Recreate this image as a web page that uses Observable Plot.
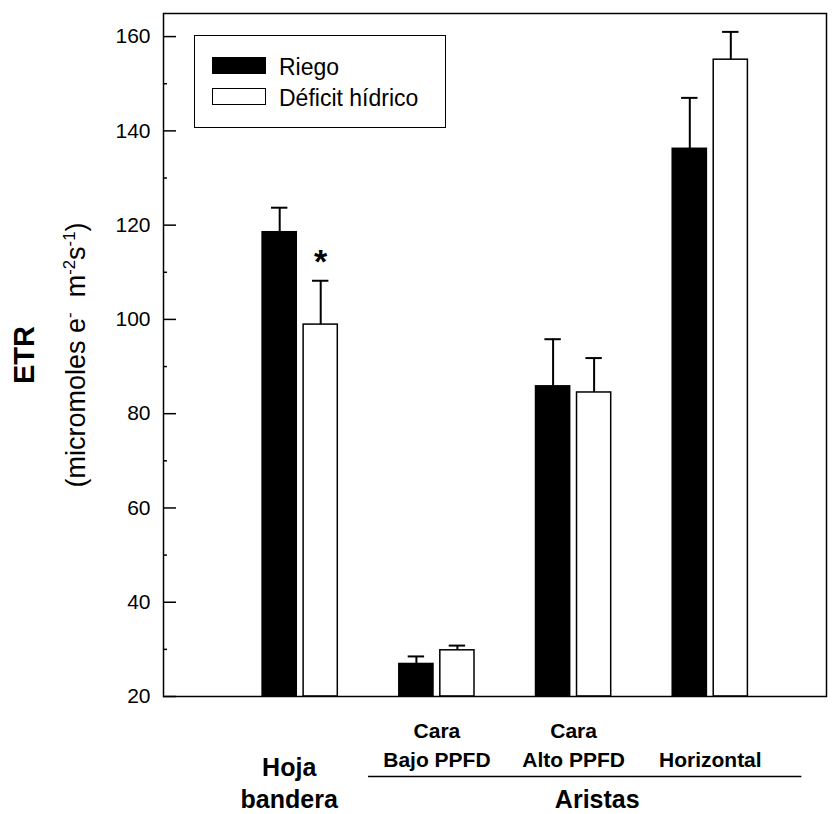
<!DOCTYPE html>
<html>
<head>
<meta charset="utf-8">
<script src="https://cdn.jsdelivr.net/npm/d3@7"></script>
<script src="https://cdn.jsdelivr.net/npm/@observablehq/plot@0.6"></script>
<style>
  body { margin: 0; background: #fff; font-family: "Liberation Sans", Arial, sans-serif; }
  #wrap { position: relative; width: 837px; height: 814px; }
  .legend { position: absolute; left: 194px; top: 35px; width: 250px; height: 91px; border: 1.5px solid #000; background: #fff; }
  .sw { position: absolute; left: 17px; width: 52px; height: 15px; border: 1.5px solid #000; }
  .lt { position: absolute; left: 84px; font-size: 23px; line-height: 23px; white-space: nowrap; color: #000; }
  .ytitle { position: absolute; white-space: nowrap; transform: translate(-50%, -50%) rotate(-90deg); color: #000; }
  .ytitle sup { font-size: 0.62em; vertical-align: 0.55em; line-height: 0; }
</style>
</head>
<body>
<div id="wrap"></div>
<script>
// ---- data ----
const groups = ["Hoja bandera", "Cara Bajo PPFD", "Cara Alto PPFD", "Horizontal"];
const groupPos = [1, 2, 3, 4];
const series = ["Riego", "Déficit hídrico"];
const riego = [118.5, 26.9, 85.8, 136.2];
const riegoErr = [5.2, 1.6, 10.0, 10.8];
const deficit = [98.9, 29.8, 84.5, 155.1];
const deficitErr = [9.3, 1.0, 7.3, 5.9];
const subLabels = ["", "Cara\nBajo PPFD", "Cara\nAlto PPFD", "Horizontal"];
const groupLabels = ["Hoja\nbandera", "Aristas"];
const aristasSpan = [1.5, 4.67];
const majorTicks = [20, 40, 60, 80, 100, 120, 140, 160];
const minorTicks = [30, 50, 70, 90, 110, 130, 150];
const signif = [{group: 0, series: 1, mark: "*"}];

// ---- layout constants ----
const W = 837, H = 814, mL = 163, mR = 11, mT = 13, mB = 118;
const innerW = W - mL - mR;
const off = [-0.15, 0.15], bw = 0.25, cap = 0.06;

const rows = [];
groups.forEach((g, i) => {
  rows.push({group: g, pos: groupPos[i], series: series[0], value: riego[i], err: riegoErr[i], off: off[0]});
  rows.push({group: g, pos: groupPos[i], series: series[1], value: deficit[i], err: deficitErr[i], off: off[1]});
});
const cx = d => d.pos + d.off;
const sigRows = signif.map(s => rows.find(r => r.group === groups[s.group] && r.series === series[s.series]));
const subRows = groupPos.map((p, i) => ({pos: p, label: subLabels[i]})).filter(d => d.label);
const hojaRow = [{pos: groupPos[0], label: groupLabels[0]}];
const aristasRow = [{pos: (aristasSpan[0] + aristasSpan[1]) / 2, label: groupLabels[1]}];

const chart = Plot.plot({
  width: W, height: H,
  marginLeft: mL, marginRight: mR, marginTop: mT, marginBottom: mB,
  style: {fontFamily: '"Liberation Sans", Arial, sans-serif', color: "#000", background: "#fff"},
  x: {type: "linear", domain: [0, 4.85], axis: null},
  y: {domain: [20, 164.9], axis: null},
  color: {domain: series, range: ["#000", "#fff"]},
  marks: [
    Plot.rect(rows, {x1: d => cx(d) - bw / 2, x2: d => cx(d) + bw / 2, y1: () => 20, y2: "value",
      fill: "series", stroke: "#000", strokeWidth: 1.5}),
    Plot.ruleX(rows, {x: cx, y1: "value", y2: d => d.value + d.err, stroke: "#000", strokeWidth: 2}),
    Plot.ruleY(rows, {y: d => d.value + d.err, x1: d => cx(d) - cap, x2: d => cx(d) + cap, stroke: "#000", strokeWidth: 2}),
    Plot.text(sigRows, {x: cx, y: d => d.value + d.err, text: () => signif[0].mark, lineAnchor: "bottom",
      dy: -8, fontSize: 34, fontWeight: "bold"}),
    Plot.frame({stroke: "#000", strokeWidth: 1.5}),
    Plot.ruleY(majorTicks, {y: d => d, insetRight: innerW - 13, stroke: "#000", strokeWidth: 1.5}),
    Plot.ruleY(minorTicks, {y: d => d, insetRight: innerW - 4, stroke: "#000", strokeWidth: 1.5}),
    Plot.axisY(majorTicks, {anchor: "left", tickSize: 0, tickPadding: 13, fontSize: 21, label: null}),
    Plot.text(subRows, {x: "pos", y: () => 20, text: "label", lineAnchor: "bottom", dy: 70,
      lineHeight: 1.38, fontSize: 21, fontWeight: "bold"}),
    Plot.text(hojaRow, {x: "pos", y: () => 20, text: "label", dx: -11, lineAnchor: "bottom", dy: 111,
      lineHeight: 1.25, fontSize: 25, fontWeight: "bold"}),
    Plot.text(aristasRow, {x: "pos", y: () => 20, text: "label", dx: 12, lineAnchor: "bottom", dy: 111,
      fontSize: 25, fontWeight: "bold"}),
    Plot.ruleY([aristasSpan], {y: () => 20, x1: d => d[0], x2: d => d[1], dy: 80, stroke: "#000", strokeWidth: 1.5})
  ]
});

const wrap = document.getElementById("wrap");
wrap.appendChild(chart);

// legend (inside frame, top-left)
const lg = document.createElement("div");
lg.className = "legend";
series.forEach((s, i) => {
  const sw = document.createElement("div");
  sw.className = "sw";
  sw.style.top = (21 + i * 31) + "px";
  sw.style.background = i === 0 ? "#000" : "#fff";
  lg.appendChild(sw);
  const t = document.createElement("div");
  t.className = "lt";
  t.style.top = (20 + i * 31) + "px";
  t.textContent = s;
  lg.appendChild(t);
});
wrap.appendChild(lg);

// y-axis title
const t1 = document.createElement("div");
t1.className = "ytitle";
t1.style.left = "24px"; t1.style.top = "355px";
t1.style.fontSize = "29px"; t1.style.fontWeight = "bold";
t1.textContent = "ETR";
wrap.appendChild(t1);
const t2 = document.createElement("div");
t2.className = "ytitle";
t2.style.left = "76px"; t2.style.top = "355px";
t2.style.fontSize = "27px";
t2.innerHTML = "(micromoles e<sup>-</sup>&nbsp; m<sup>-2</sup>s<sup>-1</sup>)";
wrap.appendChild(t2);
</script>
</body>
</html>
